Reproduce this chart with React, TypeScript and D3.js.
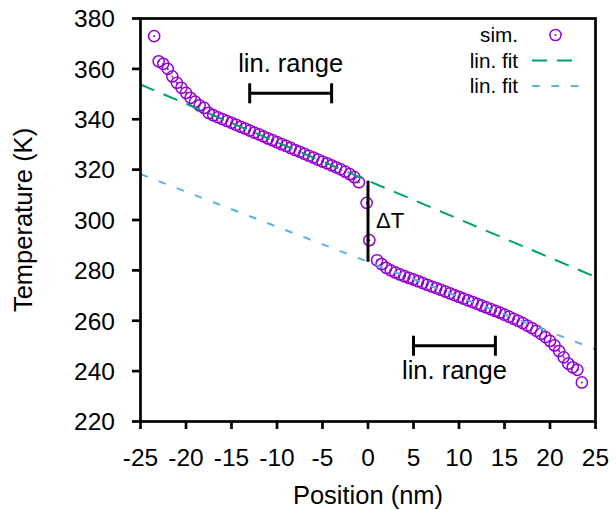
import React from "react";
import * as d3 from "d3";

const xTicks = [-25, -20, -15, -10, -5, 0, 5, 10, 15, 20, 25];
const yTicks = [220, 240, 260, 280, 300, 320, 340, 360, 380];

const simX = [
  -23.5, -23.0, -22.5, -22.0, -21.5, -21.0, -20.5, -20.0, -19.5, -19.0, -18.5, -18.0,
  -17.5, -17.0, -16.5, -16.0, -15.5, -15.0, -14.5, -14.0, -13.5, -13.0, -12.5, -12.0,
  -11.5, -11.0, -10.5, -10.0, -9.5, -9.0, -8.5, -8.0, -7.5, -7.0, -6.5, -6.0,
  -5.5, -5.0, -4.5, -4.0, -3.5, -3.0, -2.5, -2.0, -1.5, -1.0,
  -0.15, 0.15,
  1.0, 1.5, 2.0, 2.5, 3.0, 3.5, 4.0, 4.5, 5.0, 5.5, 6.0, 6.5,
  7.0, 7.5, 8.0, 8.5, 9.0, 9.5, 10.0, 10.5, 11.0, 11.5, 12.0, 12.5,
  13.0, 13.5, 14.0, 14.5, 15.0, 15.5, 16.0, 16.5, 17.0, 17.5, 18.0, 18.5,
  19.0, 19.5, 20.0, 20.5, 21.0, 21.5, 22.0, 22.5, 23.0, 23.5,
];
const simT = [
  373.0, 363.0, 362.0, 360.0, 357.0, 354.5, 352.5, 350.5, 348.5, 347.0, 345.5, 344.5,
  342.5, 341.6, 340.8, 340.1, 339.3, 338.6, 337.8, 337.0, 336.3, 335.5, 334.7, 334.0,
  333.2, 332.4, 331.7, 330.9, 330.1, 329.4, 328.6, 327.8, 327.1, 326.3, 325.5, 324.8,
  324.0, 323.2, 322.5, 321.7, 320.9, 320.1, 319.2, 318.2, 317.0, 315.0,
  306.8, 292.0,
  284.0, 282.5, 281.0, 280.0, 279.2, 278.4, 277.7, 277.0, 276.4, 275.7, 275.0, 274.3,
  273.6, 273.0, 272.3, 271.6, 270.9, 270.2, 269.5, 268.8, 268.1, 267.4, 266.7, 266.0,
  265.3, 264.6, 263.9, 263.2, 262.4, 261.6, 260.8, 260.0, 259.1, 258.1, 257.1, 256.0,
  254.8, 253.5, 252.0, 250.2, 248.0, 245.5, 243.0, 241.5, 240.5, 235.5,
];

const fitX = [-25, 25];
const fitGreenT = [353.8, 277.4];
const fitBlueT = [318.2, 248.6];

const rangeLeft = [-13, -4];
const rangeRight = [5, 14];

const W = 616;
const H = 510;
const L = 140.5, R = 595.5, T = 18.5, B = 421.5;
const FONT = "'Liberation Sans', Arial, Helvetica, sans-serif";
const PURPLE = "#9400d3";
const GREEN = "#009e73";
const BLUE = "#56b4e9";

export default function App() {
  const x = d3.scaleLinear().domain([-25, 25]).range([L, R]);
  const y = d3.scaleLinear().domain([220, 380]).range([B, T]);
  const line = d3
    .line<[number, number]>()
    .x((d) => x(d[0]))
    .y((d) => y(d[1]));
  const green = line(fitX.map((v, i) => [v, fitGreenT[i]] as [number, number])) || "";
  const blue = line(fitX.map((v, i) => [v, fitBlueT[i]] as [number, number])) || "";
  const g0 = (fitGreenT[0] + fitGreenT[1]) / 2;
  const b0 = (fitBlueT[0] + fitBlueT[1]) / 2;

  const rangeBar = (r: number[], yy: number) => (
    <g stroke="#000" strokeWidth={3}>
      <line x1={x(r[0])} x2={x(r[1])} y1={yy} y2={yy} />
      <line x1={x(r[0])} x2={x(r[0])} y1={yy - 10} y2={yy + 10} />
      <line x1={x(r[1])} x2={x(r[1])} y1={yy - 10} y2={yy + 10} />
    </g>
  );

  return (
    <svg
      width={W}
      height={H}
      style={{ position: "absolute", left: 0, top: 0, background: "#fff" }}
      fontFamily={FONT}
    >
      <rect x={0} y={0} width={W} height={H} fill="#fff" />
      {/* sim points */}
      <g fill="none" stroke={PURPLE} strokeWidth={1.5}>
        {simX.map((v, i) => (
          <circle key={i} cx={x(v)} cy={y(simT[i])} r={5.6} />
        ))}
      </g>
      <g fill={PURPLE}>
        {simX.map((v, i) => (
          <circle key={i} cx={x(v)} cy={y(simT[i])} r={1} />
        ))}
      </g>
      {/* fits */}
      <path d={green} stroke={GREEN} strokeWidth={2} fill="none" strokeDasharray="15,10" />
      <path d={blue} stroke={BLUE} strokeWidth={2} fill="none" strokeDasharray="7.7,11.7" />
      {/* delta T */}
      <line x1={x(0)} x2={x(0)} y1={y(g0)} y2={y(b0)} stroke="#000" strokeWidth={3} />
      <text x={376} y={228} fontSize={22}>ΔT</text>
      {/* lin ranges */}
      {rangeBar(rangeLeft, 93.3)}
      <text x={(x(rangeLeft[0]) + x(rangeLeft[1])) / 2} y={71.5} fontSize={25.5} textAnchor="middle">
        lin. range
      </text>
      {rangeBar(rangeRight, 345.7)}
      <text x={(x(rangeRight[0]) + x(rangeRight[1])) / 2} y={379.3} fontSize={25.5} textAnchor="middle">
        lin. range
      </text>
      {/* legend */}
      <g fontSize={20.7} textAnchor="end">
        <text x={518} y={42}>sim.</text>
        <text x={518} y={68}>lin. fit</text>
        <text x={518} y={93}>lin. fit</text>
      </g>
      <circle cx={555.5} cy={35} r={5.6} fill="none" stroke={PURPLE} strokeWidth={1.5} />
      <circle cx={555.5} cy={35} r={1} fill={PURPLE} />
      <line x1={532} x2={579} y1={60.5} y2={60.5} stroke={GREEN} strokeWidth={2} strokeDasharray="15,10" />
      <line x1={532} x2={579} y1={86} y2={86} stroke={BLUE} strokeWidth={2} strokeDasharray="7.7,11.7" />
      {/* frame */}
      <rect x={L} y={T} width={R - L} height={B - T} fill="none" stroke="#000" strokeWidth={2.7} />
      {/* ticks */}
      <g stroke="#000" strokeWidth={2.7}>
        {xTicks.map((t) => (
          <line key={t} x1={x(t)} x2={x(t)} y1={B} y2={B + 7.5} />
        ))}
        {yTicks.map((t) => (
          <line key={t} x1={L - 8.5} x2={L} y1={y(t)} y2={y(t)} />
        ))}
      </g>
      <g fontSize={24.5} textAnchor="middle">
        {xTicks.map((t) => (
          <text key={t} x={x(t)} y={466}>{t}</text>
        ))}
      </g>
      <g fontSize={24.5} textAnchor="end">
        {yTicks.map((t) => (
          <text key={t} x={115} y={y(t) + 8.8}>{t}</text>
        ))}
      </g>
      <text x={(L + R) / 2} y={504} fontSize={25.5} textAnchor="middle">Position (nm)</text>
      <text
        transform={`translate(31.5, ${(T + B) / 2}) rotate(-90)`}
        fontSize={25.5}
        textAnchor="middle"
      >
        Temperature (K)
      </text>
    </svg>
  );
}
